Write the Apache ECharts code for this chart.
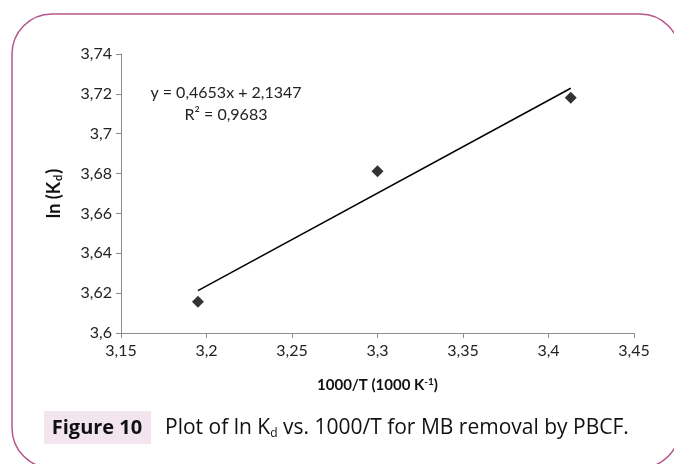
<!DOCTYPE html>
<html><head><meta charset="utf-8">
<script src="https://cdn.jsdelivr.net/npm/echarts@6/dist/echarts.min.js"></script>
<style>html,body{margin:0;padding:0;background:#fff}#c{width:674px;height:464px}</style>
</head><body><div id="c"></div>
<script>
const xValues = [3.195, 3.300, 3.413];
const yValues = [3.6157, 3.6812, 3.7181];
const trendX = [3.195, 3.413];
const trendY = [3.6213, 3.7228];
const equationText = 'y = 0,4653x + 2,1347';
const r2Text = 'R² = 0,9683';

const chart = echarts.init(document.getElementById('c'), null, {renderer: 'canvas'});
const fmt = v => String(+v.toFixed(2)).replace('.', ',');
const labelFont = 'Lato, "Open Sans", sans-serif';
const capFont = '"Open Sans", sans-serif';
const xRich = {
  a: {fontSize: 15, fontWeight: 'bold', color: '#111', fontFamily: labelFont},
  sup: {fontSize: 10, fontWeight: 'bold', verticalAlign: 'top', padding: [0,0,7,0], color: '#111', fontFamily: labelFont}
};
const yRich = {
  a: {fontSize: 18, fontWeight: 'bold', color: '#111', fontFamily: labelFont},
  sub: {fontSize: 11, fontWeight: 'bold', verticalAlign: 'bottom', padding: [8,1,0,1], color: '#111', fontFamily: labelFont}
};
chart.setOption({
  animation: false,
  grid: {left: 121, right: 40, top: 54, bottom: 131},
  xAxis: {
    type: 'value', min: 3.15, max: 3.45, interval: 0.05,
    axisLine: {show: true, lineStyle: {color: '#8c8c8c', width: 1}},
    axisTick: {show: true, length: 5, lineStyle: {color: '#8c8c8c'}},
    splitLine: {show: false},
    axisLabel: {formatter: fmt, color: '#222', fontSize: 16, fontFamily: labelFont, margin: 10},
    name: '{a|1000/T (1000 K}{sup|-1}{a|)}',
    nameLocation: 'middle', nameGap: 44,
    nameTextStyle: {color: '#111', fontSize: 15, fontWeight: 'bold', fontFamily: labelFont, rich: xRich}
  },
  yAxis: {
    type: 'value', min: 3.6, max: 3.74, interval: 0.02,
    axisLine: {show: true, lineStyle: {color: '#8c8c8c', width: 1}},
    axisTick: {show: true, length: 5, lineStyle: {color: '#8c8c8c'}},
    splitLine: {show: false},
    axisLabel: {formatter: fmt, color: '#222', fontSize: 16, fontFamily: labelFont, margin: 9},
    name: '{a|ln (K}{sub|d}{a|)}',
    nameLocation: 'middle', nameGap: 57, nameRotate: 90,
    nameTextStyle: {color: '#111', fontSize: 18, fontWeight: 'bold', fontFamily: labelFont, rich: yRich}
  },
  series: [
    {type: 'line', data: trendX.map((x, i) => [x, trendY[i]]), showSymbol: false,
      lineStyle: {color: '#000', width: 1.5}, silent: true},
    {type: 'scatter', data: xValues.map((x, i) => [x, yValues[i]]), symbol: 'diamond', symbolSize: 12,
      itemStyle: {color: '#000'}}
  ],
  graphic: [
    {type: 'rect', shape: {x: 12, y: 14, width: 668, height: 454, r: 40},
      style: {fill: 'none', stroke: '#b5558c', lineWidth: 1.5}, silent: true},
    {type: 'text', x: 226, y: 93, style: {text: equationText, fill: '#222', fontSize: 16, fontFamily: labelFont, align: 'center', verticalAlign: 'middle'}},
    {type: 'text', x: 226, y: 115, style: {text: r2Text, fill: '#222', fontSize: 16, fontFamily: labelFont, align: 'center', verticalAlign: 'middle'}},
    {type: 'rect', shape: {x: 44, y: 411, width: 107, height: 33}, style: {fill: '#f3e5ee'}},
    {type: 'text', x: 97, y: 428, style: {text: 'Figure 10', fill: '#111', fontSize: 20, fontWeight: 'bold', fontFamily: capFont, align: 'center', verticalAlign: 'middle'}},
    {type: 'text', x: 165, y: 428, style: {
      text: '{a|Plot of ln K}{sub|d}{a| vs. 1000/T for MB removal by PBCF.}',
      fill: '#111', fontSize: 21, fontFamily: capFont, align: 'left', verticalAlign: 'middle',
      rich: {
        a: {fontSize: 21, fill: '#111', fontFamily: capFont},
        sub: {fontSize: 12, fill: '#111', fontFamily: capFont, verticalAlign: 'bottom', padding: [12,0,0,0]}
      }}}
  ]
});
</script></body></html>
